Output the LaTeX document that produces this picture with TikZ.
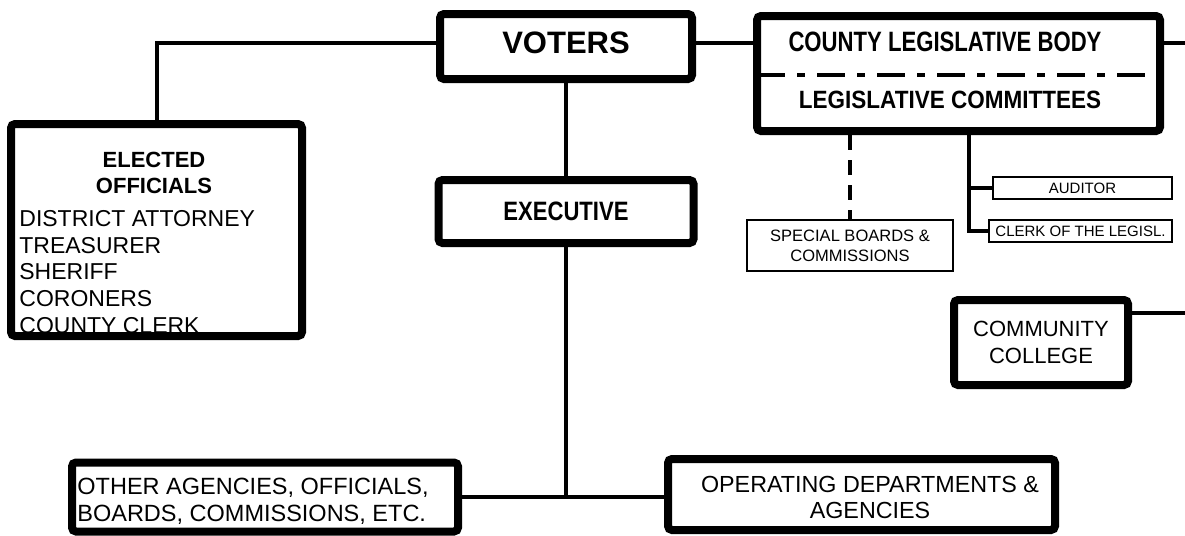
\documentclass[tikz,border=0pt]{standalone}
\usepackage{fontspec}
\setmainfont{Liberation Sans}
\usepackage{graphicx}
\newcommand\hsq[2]{\scalebox{#1}[1]{#2}}
\tikzset{
  thickbox/.style={draw, line width=4pt, rounded corners=2pt, inner sep=0pt, fill=white},
  thinbox/.style={draw, line width=1pt, inner sep=0pt, fill=white},
  conn/.style={line width=2pt},
  dconn/.style={line width=2pt, dash pattern=on 7.5pt off 5pt},
  sepline/.style={line width=2pt, dash pattern=on 14pt off 6pt on 4pt off 6pt},
  lbl/.style={inner sep=0pt},
}
\begin{document}
\begin{tikzpicture}[x=0.5pt, y=-0.5pt]
\useasboundingbox (0,0) rectangle (1185,536);

% boxes
\node[thickbox, minimum width=126pt, minimum height=32.5pt, text depth=3.5pt,
      font=\fontsize{15.5}{18}\selectfont\bfseries] (voters) at (566,46.5) {VOTERS};
\node[thickbox, minimum width=201.5pt, minimum height=57.5pt] (county) at (958.5,73.5) {};
\node[lbl, font=\fontsize{14}{16}\selectfont\bfseries] (cbody) at (945,42) {\hsq{0.79}{COUNTY LEGISLATIVE BODY}};
\node[lbl, font=\fontsize{12.5}{15}\selectfont\bfseries] (ccomm) at (950,100) {\hsq{0.9}{LEGISLATIVE COMMITTEES}};
\coordinate (sepL) at (757,75);
\coordinate (sepR) at (1145,75);
\draw[sepline] (sepL) -- (sepR);

\node[draw, line width=4pt, rounded corners=2pt, inner sep=0pt,
      minimum width=145.5pt, minimum height=106pt] (elected) at (156.5,230) {};
\node[lbl, align=center, font=\fontsize{11}{13}\selectfont\bfseries] (ehead) at (154,173) {ELECTED\\OFFICIALS};
\begin{scope}
  \clip ([xshift=2pt,yshift=2pt]elected.south west) rectangle ([xshift=-2pt,yshift=-2pt]elected.north east);
  \node[lbl, anchor=north west, align=left, font=\fontsize{11.5}{13.35}\selectfont] (elist) at (19,210)
    {DISTRICT ATTORNEY\\TREASURER\\SHERIFF\\CORONERS\\COUNTY CLERK};
\end{scope}

\node[thickbox, minimum width=127.5pt, minimum height=31.5pt,
      font=\fontsize{13.3}{16}\selectfont\bfseries] (exec) at (566,211.5) {\hsq{0.83}{EXECUTIVE}};

\node[thickbox, minimum width=193pt, minimum height=34.5pt] (other) at (265,497) {};
\node[lbl, anchor=west, align=left, font=\fontsize{11.75}{13.5}\selectfont] (otext) at (77,501) {OTHER AGENCIES, OFFICIALS,\\BOARDS, COMMISSIONS, ETC.};

\node[thickbox, minimum width=193.5pt, minimum height=35.5pt] (operating) at (861.5,494.5) {};
\node[lbl, align=center, font=\fontsize{11.65}{13}\selectfont] (optext) at (870,497) {OPERATING DEPARTMENTS \&\\AGENCIES};

\node[thickbox, minimum width=87pt, minimum height=42.5pt, align=center,
      font=\fontsize{11}{13.5}\selectfont] (college) at (1041,342.5) {COMMUNITY\\COLLEGE};

\node[thinbox, minimum width=103pt, minimum height=25.5pt, align=center,
      font=\fontsize{8.25}{10}\selectfont] (special) at (850,245.5) {SPECIAL BOARDS \&\\COMMISSIONS};
\node[thinbox, minimum width=89.5pt, minimum height=11pt,
      font=\fontsize{7.5}{9}\selectfont] (auditor) at (1082.5,188) {AUDITOR};
\node[thinbox, minimum width=91.5pt, minimum height=11pt,
      font=\fontsize{7.5}{9}\selectfont] (clerk) at (1080.5,231) {CLERK OF THE LEGISL.};

% connectors
\draw[conn] ([yshift=2pt]voters.west) -| (elected.north);
\draw[conn] ([yshift=2pt]voters.east) -- ([yshift=2pt]voters.east -| county.west);
\coordinate (rc) at (1185,42.5);
\draw[conn] (rc -| county.east) -- (rc);
\draw[conn] (voters.south) -- (exec.north);
\coordinate (j) at (exec.south |- other.east);
\draw[conn] (exec.south) -- (j);
\draw[conn] (other.east) -- (other.east -| operating.west);
\draw[dconn] (special.north |- county.south) -- (special.north);
\coordinate (t) at (969,0);
\draw[conn] (t |- county.south) |- (clerk.west);
\draw[conn] (t |- auditor.west) -- (auditor.west);
\coordinate (cc) at (1185,313);
\draw[conn] (cc -| college.east) -- (cc);
\end{tikzpicture}
\end{document}
